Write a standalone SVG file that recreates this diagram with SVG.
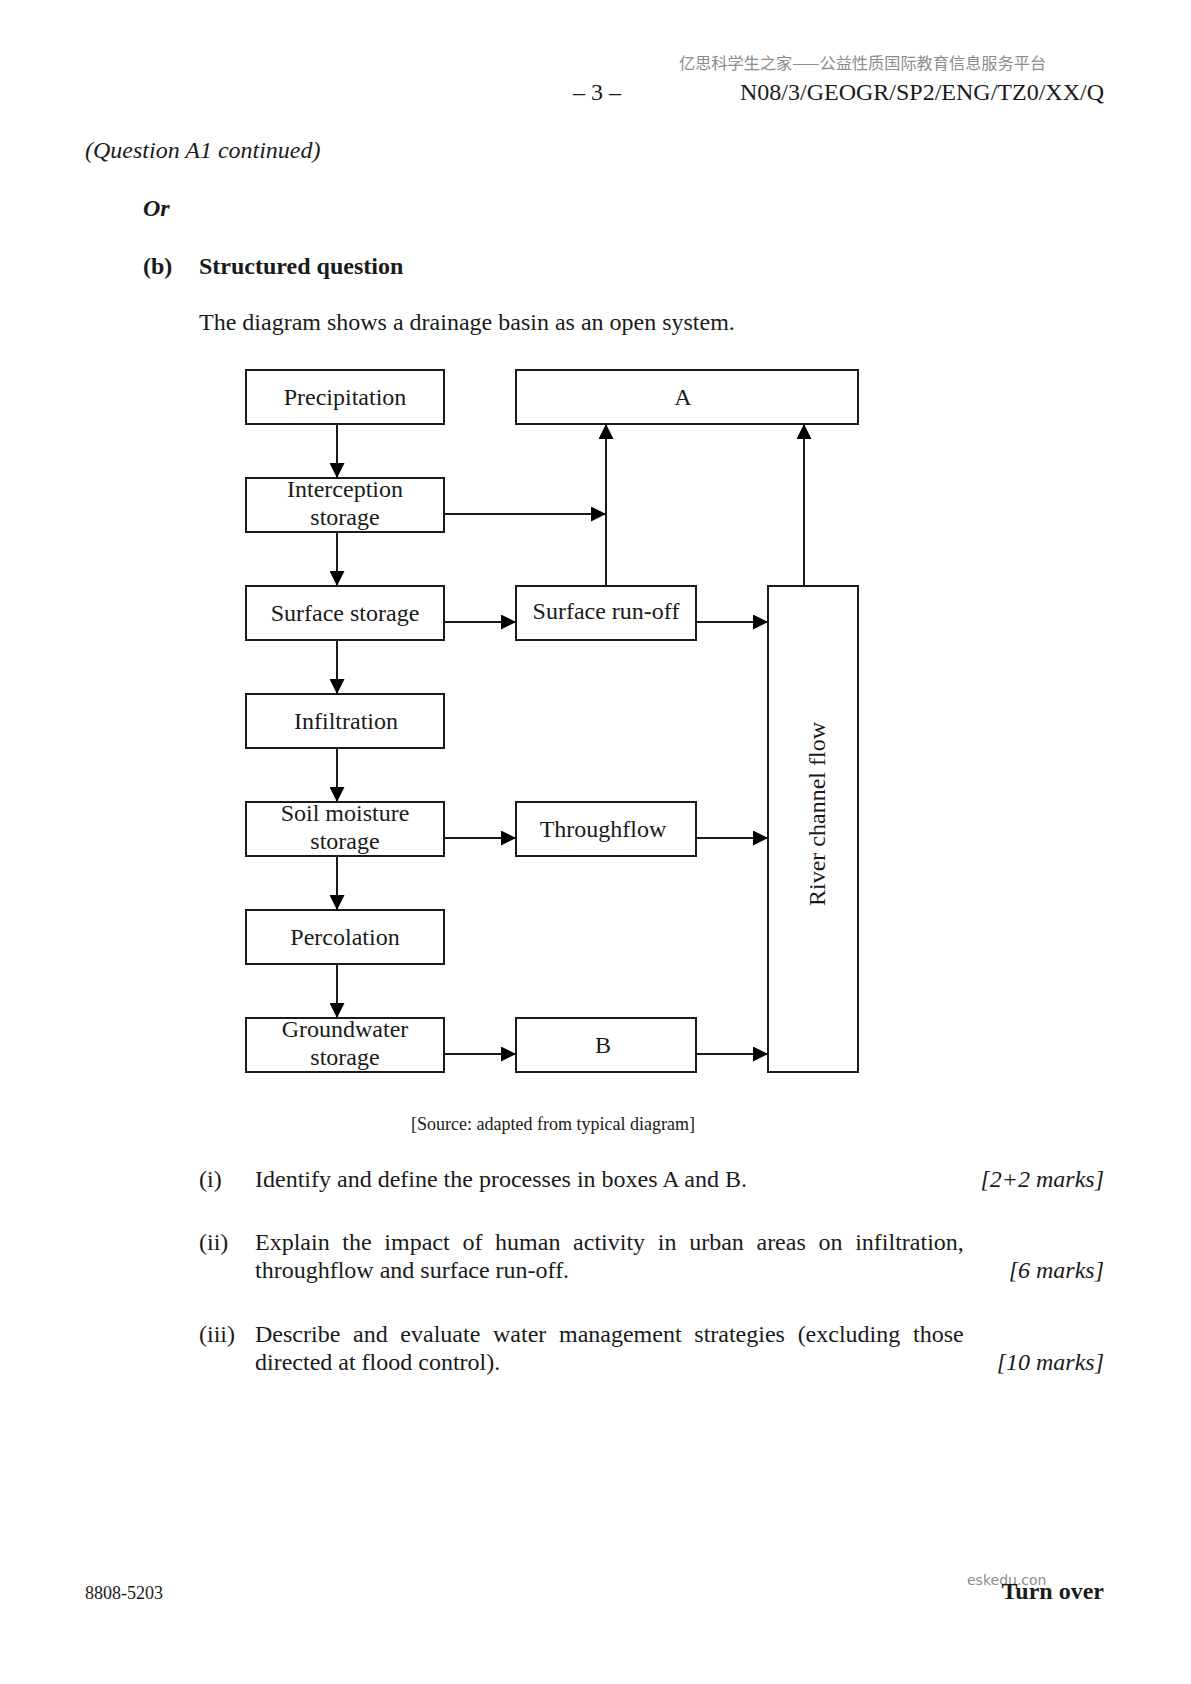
<svg xmlns="http://www.w3.org/2000/svg" width="1191" height="1684" viewBox="0 0 1191 1684">
<style>
text{font-family:"Liberation Serif","Times New Roman",serif;font-size:24px;fill:#1a1a1a}
.c{text-anchor:middle}
.r{text-anchor:end}
.it{font-style:italic}
.b{font-weight:bold}
.wm{font-family:"Noto Sans CJK SC","Noto Sans",sans-serif;fill:#8c8c8c;font-size:16.2px}
.box{fill:#fff;stroke:#1a1a1a;stroke-width:2}
.ln{fill:none;stroke:#1a1a1a;stroke-width:2}
</style>
<defs>
<marker id="ah" markerUnits="userSpaceOnUse" markerWidth="15" markerHeight="15" refX="15" refY="7.5" orient="auto">
<path d="M0,0 L15,7.5 L0,15 z" fill="#000"/>
</marker>
</defs>
<rect width="1191" height="1684" fill="#fff"/>

<g id="header">
<text class="wm" x="679" y="69">亿思科学生之家——公益性质国际教育信息服务平台</text>
<text class="c" x="597" y="100">– 3 –</text>
<text class="r" x="1104" y="100">N08/3/GEOGR/SP2/ENG/TZ0/XX/Q</text>
<text class="it" x="85" y="158">(Question A1 continued)</text>
<text class="it b" x="143" y="216">Or</text>
<text class="b" x="143" y="274">(b)</text>
<text class="b" x="199" y="274">Structured question</text>
<text x="199" y="330">The diagram shows a drainage basin as an open system.</text>
</g>

<g id="connectors">
<path class="ln" marker-end="url(#ah)" d="M337,424 V478"/>
<path class="ln" marker-end="url(#ah)" d="M337,532 V586"/>
<path class="ln" marker-end="url(#ah)" d="M337,640 V694"/>
<path class="ln" marker-end="url(#ah)" d="M337,748 V802"/>
<path class="ln" marker-end="url(#ah)" d="M337,856 V910"/>
<path class="ln" marker-end="url(#ah)" d="M337,964 V1018"/>
<path class="ln" marker-end="url(#ah)" d="M444,514 H606"/>
<path class="ln" marker-end="url(#ah)" d="M606,586 V424"/>
<path class="ln" marker-end="url(#ah)" d="M804,586 V424"/>
<path class="ln" marker-end="url(#ah)" d="M444,622 H516"/>
<path class="ln" marker-end="url(#ah)" d="M696,622 H768"/>
<path class="ln" marker-end="url(#ah)" d="M444,838 H516"/>
<path class="ln" marker-end="url(#ah)" d="M696,838 H768"/>
<path class="ln" marker-end="url(#ah)" d="M444,1054 H516"/>
<path class="ln" marker-end="url(#ah)" d="M696,1054 H768"/>
</g>

<g id="precipitation"><rect class="box" x="246" y="370" width="198" height="54"/><text class="c" x="345" y="405">Precipitation</text></g>
<g id="interception"><rect class="box" x="246" y="478" width="198" height="54"/><text class="c" x="345" y="497">Interception</text><text class="c" x="345" y="525">storage</text></g>
<g id="surface-storage"><rect class="box" x="246" y="586" width="198" height="54"/><text class="c" x="345" y="621">Surface storage</text></g>
<g id="infiltration"><rect class="box" x="246" y="694" width="198" height="54"/><text class="c" x="346" y="729">Infiltration</text></g>
<g id="soil-moisture"><rect class="box" x="246" y="802" width="198" height="54"/><text class="c" x="345" y="821">Soil moisture</text><text class="c" x="345" y="849">storage</text></g>
<g id="percolation"><rect class="box" x="246" y="910" width="198" height="54"/><text class="c" x="345" y="945">Percolation</text></g>
<g id="groundwater"><rect class="box" x="246" y="1018" width="198" height="54"/><text class="c" x="345" y="1037">Groundwater</text><text class="c" x="345" y="1065">storage</text></g>

<g id="box-a"><rect class="box" x="516" y="370" width="342" height="54"/><text class="c" x="683" y="405">A</text></g>
<g id="surface-runoff"><rect class="box" x="516" y="586" width="180" height="54"/><text class="c" x="606" y="619">Surface run-off</text></g>
<g id="throughflow"><rect class="box" x="516" y="802" width="180" height="54"/><text class="c" x="603" y="837">Throughflow</text></g>
<g id="box-b"><rect class="box" x="516" y="1018" width="180" height="54"/><text class="c" x="603" y="1053">B</text></g>
<g id="river"><rect class="box" x="768" y="586" width="90" height="486"/><text class="c" transform="translate(825,814) rotate(-90)">River channel flow</text></g>

<g id="body">
<text class="c" x="553" y="1130" style="font-size:18px">[Source: adapted from typical diagram]</text>
<text x="199" y="1187">(i)</text>
<text x="255" y="1187">Identify and define the processes in boxes A and B.</text>
<text class="r it" x="1104" y="1187">[2+2 marks]</text>
<text x="199" y="1250">(ii)</text>
<text x="255" y="1250" word-spacing="6.7">Explain the impact of human activity in urban areas on infiltration,</text>
<text x="255" y="1278">throughflow and surface run-off.</text>
<text class="r it" x="1104" y="1278">[6 marks]</text>
<text x="199" y="1342">(iii)</text>
<text x="255" y="1342" word-spacing="6.7">Describe and evaluate water management strategies (excluding those</text>
<text x="255" y="1370">directed at flood control).</text>
<text class="r it" x="1104" y="1370">[10 marks]</text>
</g>

<g id="footer">
<text x="85" y="1599" style="font-size:18px">8808-5203</text>
<text x="967" y="1585" style="font-family:'DejaVu Sans','Noto Sans',sans-serif;font-size:14px;fill:#8c8c8c">eskedu.con</text>
<text class="r b" x="1104" y="1599">Turn over</text>
</g>
</svg>
